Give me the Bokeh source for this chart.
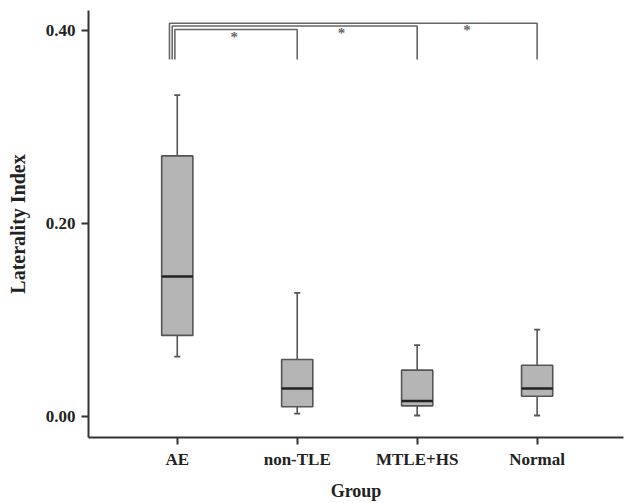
from bokeh.plotting import figure
from bokeh.models import Range1d, FixedTicker, ColumnDataSource
from bokeh.embed import file_html
from bokeh.resources import INLINE
from bokeh.core.properties import value

# ---- data ----
groups = ["AE", "non-TLE", "MTLE+HS", "Normal"]
whisker_low = [0.062, 0.003, 0.001, 0.001]
q1 = [0.084, 0.010, 0.011, 0.021]
median = [0.145, 0.029, 0.016, 0.029]
q3 = [0.270, 0.059, 0.048, 0.053]
whisker_high = [0.333, 0.128, 0.074, 0.090]

comp_from = ["AE", "AE", "AE"]
comp_to = ["non-TLE", "MTLE+HS", "Normal"]
comp_height = [0.4010, 0.4047, 0.4075]
comp_mark = ["*", "*", "*"]
leg_bottom = 0.370

y_ticks = [0.0, 0.2, 0.4]

# ---- styling ----
FONT = "Liberation Serif"
BOX_FILL = "#b5b5b5"
LINE = "#555555"
AXIS = "#333333"

pos = {g: i + 1 for i, g in enumerate(groups)}
xs = [pos[g] for g in groups]

p = figure(width=625, height=503, output_backend="svg", toolbar_location=None,
           x_range=Range1d(0.26, 4.72), y_range=Range1d(-0.0218, 0.4207),
           min_border_left=88, min_border_right=2, min_border_top=10, min_border_bottom=50)
p.outline_line_color = None
p.xgrid.visible = False
p.ygrid.visible = False

src = ColumnDataSource(dict(x=xs, lo=whisker_low, q1=q1, med=median, q3=q3, hi=whisker_high))
bw = 0.26
cap = 0.05
# whiskers
p.segment(x0="x", y0="q3", x1="x", y1="hi", source=src, line_color=LINE, line_width=1.6)
p.segment(x0="x", y0="lo", x1="x", y1="q1", source=src, line_color=LINE, line_width=1.6)
# caps
capsrc = ColumnDataSource(dict(xl=[x - cap / 2 for x in xs], xr=[x + cap / 2 for x in xs],
                               lo=whisker_low, hi=whisker_high))
p.segment(x0="xl", y0="hi", x1="xr", y1="hi", source=capsrc, line_color=LINE, line_width=1.8)
p.segment(x0="xl", y0="lo", x1="xr", y1="lo", source=capsrc, line_color=LINE, line_width=1.8)
# boxes
p.vbar(x="x", width=bw, bottom="q1", top="q3", source=src, fill_color=BOX_FILL,
       line_color=LINE, line_width=1.6)
# medians
medsrc = ColumnDataSource(dict(xl=[x - bw / 2 for x in xs], xr=[x + bw / 2 for x in xs], med=median))
p.segment(x0="xl", y0="med", x1="xr", y1="med", source=medsrc, line_color="#222222", line_width=2.6)

# significance brackets
left_offsets = [-0.02, -0.042, -0.065]
star_offsets = [0.525, 0.63, 0.585]
bx, by = [], []
sx, sy = [], []
for k in range(len(comp_to)):
    x0 = pos[comp_from[k]] + left_offsets[k]
    x1 = pos[comp_to[k]]
    h = comp_height[k]
    bx.append([x0, x0, x1, x1])
    by.append([leg_bottom, h, h, leg_bottom])
    sx.append(x1 - star_offsets[k])
    sy.append(h - 0.0075)
p.multi_line(xs=bx, ys=by, line_color="#666666", line_width=1.6)
p.text(x=sx, y=sy, text=comp_mark, text_font=value(FONT), text_font_size="15px",
       text_color="#666666", text_align="center", text_baseline="middle", text_font_style="bold")

# axes
xa = p.xaxis[0]
xa.ticker = FixedTicker(ticks=xs)
xa.major_label_overrides = {x: g for x, g in zip(xs, groups)}
xa.axis_label = "Group"
ya = p.yaxis[0]
ya.ticker = FixedTicker(ticks=y_ticks)
ya.major_label_overrides = {t: f"{t:.2f}" for t in y_ticks}
ya.axis_label = "Laterality Index"

for ax in (xa, ya):
    ax.axis_line_color = AXIS
    ax.axis_line_width = 2
    ax.major_tick_line_color = AXIS
    ax.major_tick_line_width = 2
    ax.major_tick_in = 0
    ax.major_tick_out = 7
    ax.minor_tick_line_color = None
    ax.major_label_text_font = FONT
    ax.major_label_text_font_style = "bold"
    ax.major_label_text_font_size = "17px"
    ax.major_label_text_color = "#222222"
    ax.axis_label_text_font = FONT
    ax.axis_label_text_font_style = "bold"
    ax.axis_label_text_color = "#222222"
xa.major_label_standoff = 5
ya.major_label_standoff = 6
xa.axis_label_text_font_size = "18px"
ya.axis_label_text_font_size = "20px"
xa.axis_label_standoff = 9
ya.axis_label_standoff = 14

open("out.html", "w").write(file_html(p, INLINE))
